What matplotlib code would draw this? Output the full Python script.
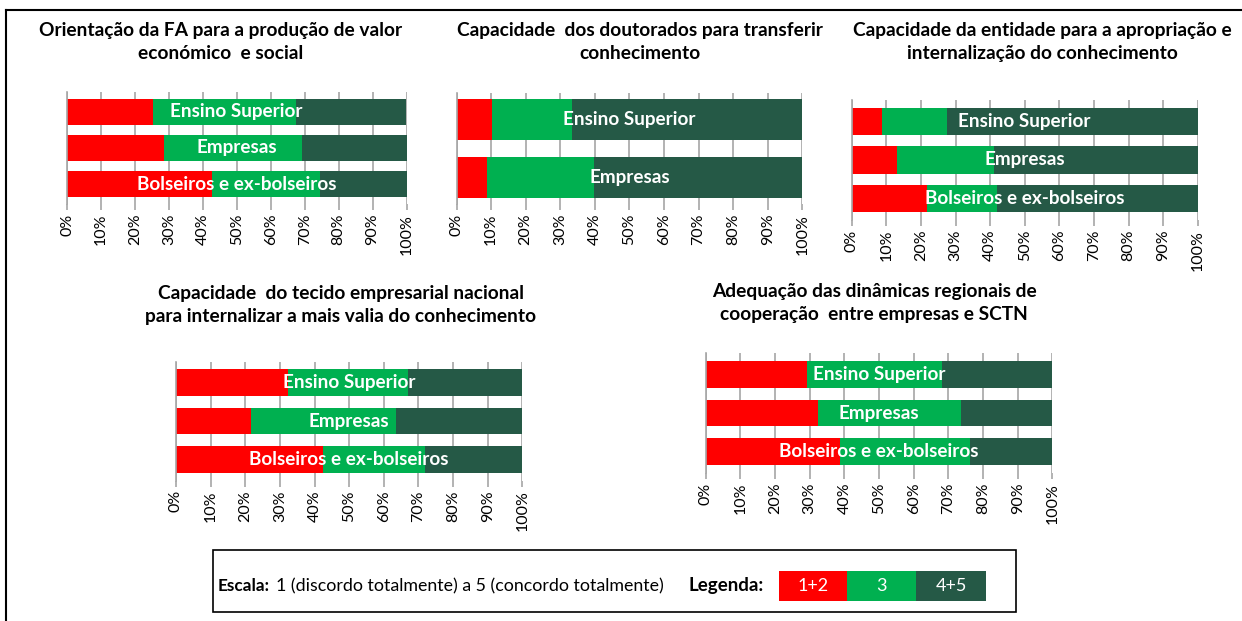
import matplotlib
matplotlib.use("Agg")
import matplotlib.pyplot as plt
from matplotlib.patches import Rectangle
from matplotlib.lines import Line2D

plt.rcParams['font.family'] = ['Lato', 'DejaVu Sans']

W, H = 1242, 621

# ---------------- data ----------------
titles = [
    "Orientação da FA para a produção de valor\neconómico  e social",
    "Capacidade  dos doutorados para transferir\nconhecimento",
    "Capacidade da entidade para a apropriação e\ninternalização do conhecimento",
    "Capacidade  do tecido empresarial nacional\npara internalizar a mais valia do conhecimento",
    "Adequação das dinâmicas regionais de\ncooperação  entre empresas e SCTN",
]
groups = [
    ["Ensino Superior", "Empresas", "Bolseiros e ex-bolseiros"],
    ["Ensino Superior", "Empresas"],
    ["Ensino Superior", "Empresas", "Bolseiros e ex-bolseiros"],
    ["Ensino Superior", "Empresas", "Bolseiros e ex-bolseiros"],
    ["Ensino Superior", "Empresas", "Bolseiros e ex-bolseiros"],
]
# percentages: 1+2 (discordo), 3 (neutro), 4+5 (concordo)
disagree = [
    [25.3, 28.5, 42.6],
    [10.2, 8.9],
    [8.8, 13.1, 21.8],
    [32.2, 21.7, 42.5],
    [29.3, 32.4, 38.7],
]
neutral = [
    [42.1, 40.8, 31.8],
    [23.1, 31.0],
    [18.7, 28.0, 20.2],
    [34.9, 41.8, 29.4],
    [39.0, 41.2, 37.5],
]
agree = [[100 - d - n for d, n in zip(ds, ns)] for ds, ns in zip(disagree, neutral)]
xticks = list(range(0, 101, 10))
xticklabels = [f"{t}%" for t in xticks]
legend_labels = ["1+2", "3", "4+5"]

colors = ["#FF0000", "#00B050", "#255946"]

# layout (pixels): left, right, top, bottom, ylim pad, bar height
layouts = [
    (67, 406.5, 92, 204, 0.55, 0.73),
    (456.5, 802.3, 93, 204, 0.45, 0.71),
    (851.7, 1197.7, 100, 220, 0.55, 0.70),
    (176, 522.3, 361.5, 480.5, 0.55, 0.70),
    (705.7, 1052.3, 353, 473, 0.55, 0.69),
]
title_pos = [(221, 42), (640, 42), (1042, 42), (341, 305), (874, 303)]

fig = plt.figure(figsize=(W / 100, H / 100), dpi=100)


def fx(x):
    return x / W


def fy(y):
    return 1 - y / H


for i in range(5):
    l, r, t, b, pad, bh = layouts[i]
    ax = fig.add_axes([fx(l), fy(b), (r - l) / W, (b - t) / H])
    n = len(groups[i])
    ypos = list(range(n))
    ax.barh(ypos, disagree[i], height=bh, color=colors[0], zorder=2)
    ax.barh(ypos, neutral[i], left=disagree[i], height=bh, color=colors[1], zorder=2)
    left2 = [d + m for d, m in zip(disagree[i], neutral[i])]
    ax.barh(ypos, agree[i], left=left2, height=bh, color=colors[2], zorder=2)
    for yp, g in zip(ypos, groups[i]):
        ax.text(50, yp, g, ha="center", va="center", color="white",
                fontsize=13.6, fontweight="bold", zorder=3)
    ax.set_xlim(0, 100)
    ax.set_ylim(n - 1 + pad, -pad)
    ax.set_xticks(xticks)
    ax.set_xticklabels(xticklabels, rotation=90, fontsize=11.5)
    ax.set_yticks([])
    ax.grid(axis="x", color="#A6A6A6", linewidth=1.2, zorder=1)
    ax.tick_params(axis="x", length=4, color="#A6A6A6", width=1.2, pad=3)
    for s in ["top", "right", "bottom"]:
        ax.spines[s].set_visible(False)
    ax.spines["left"].set_color("#A6A6A6")
    ax.spines["left"].set_linewidth(1.2)
    tx, ty = title_pos[i]
    fig.text(fx(tx), fy(ty), titles[i], ha="center", va="center",
             fontsize=13.8, fontweight="bold", linespacing=1.42)

# outer frame (left and top lines)
fig.add_artist(Line2D([fx(6), fx(6)], [fy(10), 0], color="black", lw=1.5,
                      transform=fig.transFigure))
fig.add_artist(Line2D([fx(6), 1], [fy(10), fy(10)], color="black", lw=1.5,
                      transform=fig.transFigure))

# legend box
fig.add_artist(Rectangle((fx(213), fy(612)), (1016 - 213) / W, (612 - 550) / H,
                         transform=fig.transFigure, fill=False, edgecolor="black", lw=1.2))
fig.text(fx(218), fy(586), "Escala:", ha="left", va="center", fontsize=12.3, fontweight="bold")
fig.text(fx(276), fy(586), "1 (discordo totalmente) a 5 (concordo totalmente)",
         ha="left", va="center", fontsize=12.8)
fig.text(fx(688), fy(586), "Legenda:", ha="left", va="center", fontsize=13.5, fontweight="bold")
box_x = [779, 847, 916, 986]
for k in range(3):
    fig.add_artist(Rectangle((fx(box_x[k]), fy(601)), (box_x[k + 1] - box_x[k]) / W, 30 / H,
                             transform=fig.transFigure, facecolor=colors[k], edgecolor="none"))
    fig.text(fx((box_x[k] + box_x[k + 1]) / 2), fy(586), legend_labels[k], ha="center",
             va="center", fontsize=13, color="white")

fig.savefig("out.png", dpi=100)
